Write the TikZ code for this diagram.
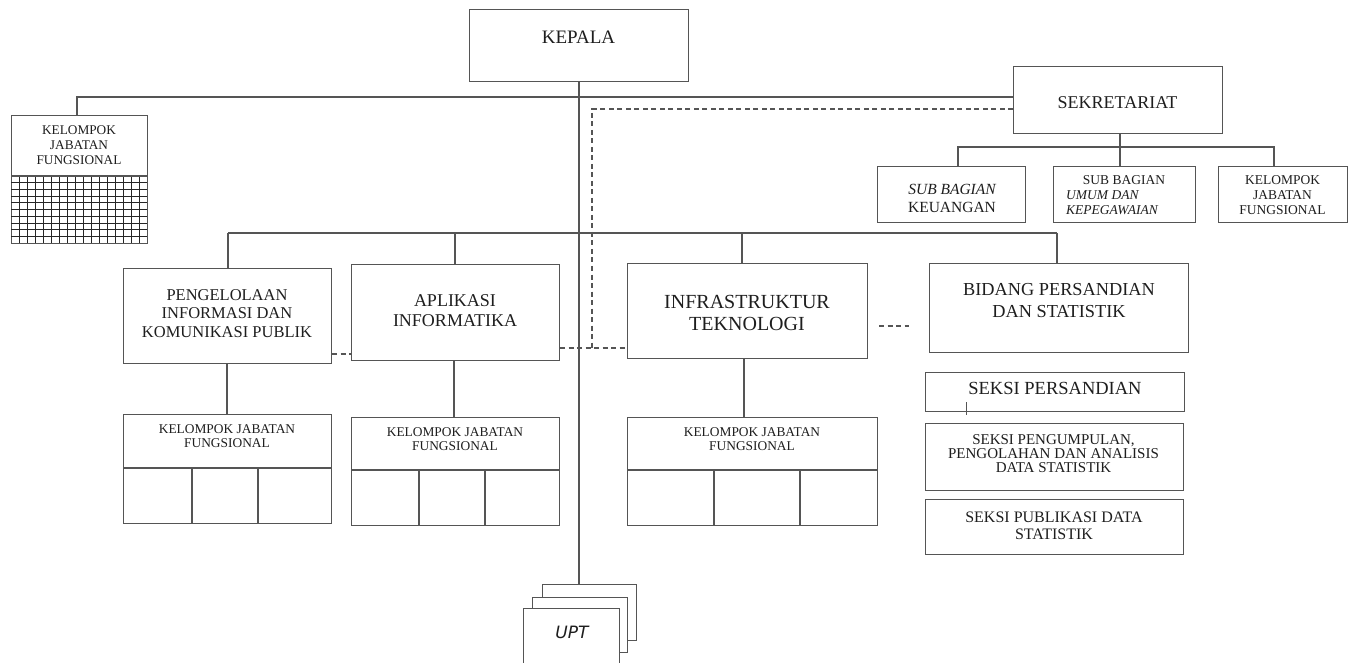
\documentclass[tikz,border=0pt]{standalone}
\usepackage{fontspec}
\setmainfont{Liberation Serif}
\newfontfamily\uptfont{DejaVu Sans}
\definecolor{lc}{RGB}{85,85,85}
\definecolor{tc}{RGB}{30,30,30}
\begin{document}
\begin{tikzpicture}[x=1pt,y=-1pt,
  ln/.style={draw=lc, line width=1.1pt},
  dl/.style={draw=lc, line width=1.1pt, dash pattern=on 5pt off 3.5pt},
  box/.style={draw=lc, line width=1.1pt, fill=white, inner sep=0pt, anchor=north west, rectangle},
  txt/.style={text=tc, inner sep=0pt, align=center},
  gridln/.style={draw=black!85, line width=0.7pt}]
\useasboundingbox (0,0) rectangle (1352,663);
\fill[white] (0,0) rectangle (1352,663);

% ---- boxes ----
\node[box, minimum width=219pt, minimum height=72pt] (kepala) at (469,9) {};
\node[txt, font=\fontsize{19}{21}\selectfont] (tkepala) at (578.5,37) {KEPALA};

\node[box, minimum width=209pt, minimum height=67pt] (sek) at (1013,66) {};
\node[txt, font=\fontsize{18}{20}\selectfont] (tsek) at (1117.5,103) {SEKRETARIAT};

% left KJF with grid
\node[box, minimum width=136pt, minimum height=128pt] (kjfL) at (11,115) {};
\foreach \i in {1,...,16} \draw[gridln] (11+\i*8,176) -- (11+\i*8,243);
\foreach \j in {1,...,9} \draw[gridln] (11,176+\j*6.7) -- (147,176+\j*6.7);
\draw[ln] (11,176) -- (147,176);
\node[txt, font=\fontsize{13.3}{15}\selectfont] (tkjfL) at (79,145) {KELOMPOK\\JABATAN\\FUNGSIONAL};

% sekretariat children
\node[box, minimum width=148pt, minimum height=56pt] (sb1) at (877,166) {};
\node[txt, font=\fontsize{15.5}{18}\selectfont] (tsb1) at (952,198) {\itshape SUB BAGIAN\\KEUANGAN};
\node[box, minimum width=142pt, minimum height=56pt] (sb2) at (1053,166) {};
\node[txt, font=\fontsize{13.5}{15}\selectfont] (tsb2a) at (1124,180) {SUB BAGIAN};
\node[txt, font=\fontsize{13.5}{15}\selectfont\itshape, align=left, anchor=west] (tsb2b) at (1066,202.5) {UMUM DAN\\KEPEGAWAIAN};
\node[box, minimum width=129pt, minimum height=56pt] (sb3) at (1218,166) {};
\node[txt, font=\fontsize{13.5}{15}\selectfont] (tsb3) at (1282.5,195) {KELOMPOK\\JABATAN\\FUNGSIONAL};

% bidang row
\node[box, minimum width=208pt, minimum height=95pt] (peng) at (123,268) {};
\node[txt, font=\fontsize{16.5}{18.5}\selectfont] (tpeng) at (227,313.5) {PENGELOLAAN\\INFORMASI DAN\\KOMUNIKASI PUBLIK};
\node[box, minimum width=208pt, minimum height=96pt] (apl) at (351,264) {};
\node[txt, font=\fontsize{18}{20}\selectfont] (tapl) at (455,311) {APLIKASI\\INFORMATIKA};
\node[box, minimum width=240pt, minimum height=95pt] (infra) at (627,263) {};
\node[txt, font=\fontsize{20}{22}\selectfont] (tinfra) at (747,313) {INFRASTRUKTUR\\TEKNOLOGI};
\node[box, minimum width=259pt, minimum height=89pt] (bid) at (929,263) {};
\node[txt, font=\fontsize{18.3}{22}\selectfont] (tbid) at (1059,301) {BIDANG PERSANDIAN\\DAN STATISTIK};

% seksi
\node[box, minimum width=259pt, minimum height=39pt] (s1) at (925,372) {};
\node[txt, font=\fontsize{18.5}{20}\selectfont] (ts1) at (1055,388) {SEKSI PERSANDIAN};
\node[box, minimum width=258pt, minimum height=67pt] (s2) at (925,423) {};
\node[txt, font=\fontsize{15}{14}\selectfont] (ts2) at (1053.5,454) {SEKSI PENGUMPULAN,\\PENGOLAHAN DAN ANALISIS\\DATA STATISTIK};
\node[box, minimum width=258pt, minimum height=55pt] (s3) at (925,499) {};
\node[txt, font=\fontsize{16}{17}\selectfont] (ts3) at (1054,525.5) {SEKSI PUBLIKASI DATA\\STATISTIK};
\coordinate (tickA) at (966,402);
\coordinate (tickB) at (966,415);
\draw[ln, line width=0.8pt] (tickA) -- (tickB);

% KJF boxes under bidang
\node[box, minimum width=208pt, minimum height=109pt] (k1) at (123,414) {};
\draw[ln] (123,468) -- (331,468);
\draw[ln] (192,468) -- (192,523);
\draw[ln] (258,468) -- (258,523);
\node[txt, font=\fontsize{13.4}{14}\selectfont] (tk1) at (227,436) {KELOMPOK JABATAN\\FUNGSIONAL};

\node[box, minimum width=208pt, minimum height=108pt] (k2) at (351,417) {};
\draw[ln] (351,470) -- (559,470);
\draw[ln] (419,470) -- (419,525);
\draw[ln] (485,470) -- (485,525);
\node[txt, font=\fontsize{13.4}{14}\selectfont] (tk2) at (455,439) {KELOMPOK JABATAN\\FUNGSIONAL};

\node[box, minimum width=250pt, minimum height=108pt] (k3) at (627,417) {};
\draw[ln] (627,470) -- (877,470);
\draw[ln] (714,470) -- (714,525);
\draw[ln] (800,470) -- (800,525);
\node[txt, font=\fontsize{13.4}{14}\selectfont] (tk3) at (752,439.5) {KELOMPOK JABATAN\\FUNGSIONAL};

% UPT stack
\node[box, minimum width=94pt, minimum height=56pt] (upt3) at (542,584) {};
\node[box, minimum width=95pt, minimum height=55pt] (upt2) at (532,597) {};
\node[box, minimum width=96pt, minimum height=70pt] (upt1) at (523,608) {};
\node[txt, font=\fontsize{17}{19}\selectfont\uptfont\itshape] (tupt) at (572,632) {UPT};

% ---- connectors ----
\coordinate (topbar) at (0,97);
\draw[ln] (kjfL.north -| 77,0) -- (77,97) -- (sek.west |- topbar);
\draw[ln] (kepala.south -| 579,0) -- (upt3.north -| 579,0);

% dashed coordination
\coordinate (dA) at (592,109);
\coordinate (dB) at (592,348);
\draw[dl] (sek.west |- dA) -- (dA) -- (dB);
\draw[dl] (apl.east |- dB) -- (infra.west |- dB);
\draw[dl] (peng.east |- 0,354) -- (apl.west |- 0,354);
\coordinate (dC) at (879,326);
\coordinate (dD) at (909,326);
\draw[dl] (dC) -- (dD);

% sekretariat subtree
\coordinate (sbar) at (0,147);
\draw[ln] (sek.south -| 1120,0) -- (1120,147);
\draw[ln] (958,166) -- (958,147) -- (1274,147) -- (1274,166);
\draw[ln] (1120,147) -- (sb2.north -| 1120,0);
\draw[ln] (958,147) -- (sb1.north -| 958,0);

% bidang bar
\coordinate (barL) at (228,233);
\coordinate (barR) at (1057,233);
\draw[ln] (barL) -- (barR);
\draw[ln] (barL) -- (peng.north -| barL);
\draw[ln] (455,233) -- (apl.north -| 455,0);
\draw[ln] (742,233) -- (infra.north -| 742,0);
\draw[ln] (barR) -- (bid.north -| barR);

% down to KJF boxes
\draw[ln] (peng.south -| 227,0) -- (k1.north -| 227,0);
\draw[ln] (apl.south -| 454,0) -- (k2.north -| 454,0);
\draw[ln] (infra.south -| 744,0) -- (k3.north -| 744,0);
\end{tikzpicture}
\end{document}
